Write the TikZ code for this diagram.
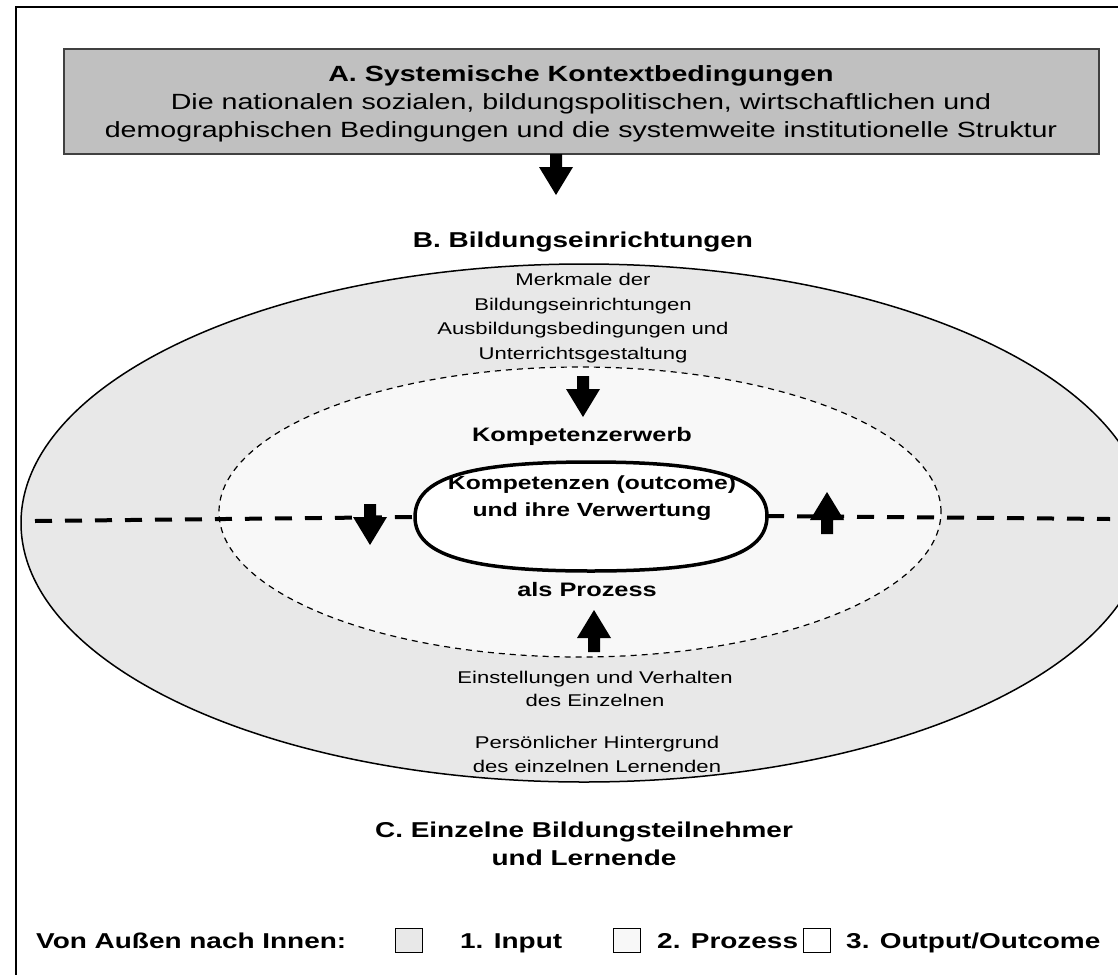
\documentclass[tikz,border=0pt]{standalone}
\usepackage{fontspec}
\setmainfont{Liberation Sans}[FakeStretch=1.3]
\usetikzlibrary{shapes.geometric}
\definecolor{boxgray}{HTML}{C0C0C0}
\definecolor{boxline}{HTML}{404040}
\definecolor{outerfill}{HTML}{E8E8E8}
\definecolor{innerfill}{HTML}{F8F8F8}
\tikzset{
  downarr/.pic={\fill (-6,-41) -- (6,-41) -- (6,-28) -- (17,-28) -- (0,0) -- (-17,-28) -- (-6,-28) -- cycle;},
  uparr/.pic={\fill (-6,42) -- (6,42) -- (6,28) -- (17,28) -- (0,0) -- (-17,28) -- (-6,28) -- cycle;},
  bigtxt/.style={font=\fontsize{22}{28}\selectfont, align=center, inner sep=0pt},
  boldtxt/.style={font=\bfseries\fontsize{21.5}{28}\selectfont, align=center, inner sep=0pt},
  midtxt/.style={font=\bfseries\fontsize{19.5}{28}\selectfont, align=center, inner sep=0pt},
  smalltxt/.style={font=\fontsize{17}{24.5}\selectfont, align=center, inner sep=0pt},
  legbox/.style={draw, line width=1pt, minimum width=27pt, minimum height=24pt, inner sep=0pt},
  thickdash/.style={line width=4pt, dash pattern=on 17pt off 13pt},
}
\begin{document}
\begin{tikzpicture}[x=1pt,y=-1pt]
\useasboundingbox (0,0) rectangle (1118,974);
\clip (0,0) rectangle (1118,974);
\fill[white] (0,0) rectangle (1118,974);
% frame
\draw[line width=2pt] (16,1000) -- (16,7) -- (1140,7);
% A box
\node[draw=boxline, fill=boxgray, line width=1.5pt, minimum width=1035pt, minimum height=105pt, inner sep=0pt] (boxA) at (581.5,101.5) {};
\node[bigtxt] (txtA) at (581,104) {\textbf{A. Systemische Kontextbedingungen}\\Die nationalen sozialen, bildungspolitischen, wirtschaftlichen und\\demographischen Bedingungen und die systemweite institutionelle Struktur};
\pic at (556,195) {downarr};
\node[boldtxt] (titleB) at (583,242) {B. Bildungseinrichtungen};
% ellipses
\path[draw, fill=outerfill, line width=1.5pt] (584,523) ellipse [x radius=563pt, y radius=259pt];
\path[draw, fill=innerfill, line width=1.2pt, dash pattern=on 6pt off 5pt] (580,512) ellipse [x radius=361pt, y radius=145pt];
\node[smalltxt] (merk) at (583,318) {Merkmale der\\Bildungseinrichtungen\\Ausbildungsbedingungen und\\Unterrichtsgestaltung};
\pic at (583,417) {downarr};
\node[midtxt] (kerw) at (582,436) {Kompetenzerwerb};
% central oval (outcome)
\coordinate (outcW) at (415,517);
\coordinate (outcE) at (767,516);
\draw[line width=3.5pt, fill=white] (outcW)
  .. controls (415,478) and (468,462) .. (591,462)
  .. controls (714,462) and (767,478) .. (outcE)
  .. controls (767,555) and (714,571) .. (591,571)
  .. controls (468,571) and (415,555) .. (outcW) -- cycle;
\node[midtxt, font=\bfseries\fontsize{19}{27.5}\selectfont] (outct) at (592,498) {Kompetenzen (outcome)\\und ihre Verwertung};
\coordinate (dl) at (35,521);
\coordinate (dr) at (1110,519);
\draw[thickdash] (dl) -- (outcW);
\draw[thickdash] (outcE) -- (dr);
\pic at (370,545) {downarr};
\pic at (827,492) {uparr};
\node[midtxt] (proz) at (587,590) {als Prozess};
\pic at (594,610) {uparr};
\node[smalltxt, font=\fontsize{17}{23}\selectfont] (einst) at (595,688.5) {Einstellungen und Verhalten\\des Einzelnen};
\node[smalltxt, font=\fontsize{17}{24}\selectfont] (pers) at (597,754) {Persönlicher Hintergrund\\des einzelnen Lernenden};
\node[boldtxt] (titleC) at (584,844) {C. Einzelne Bildungsteilnehmer\\und Lernende};
% legend
\node[boldtxt, anchor=base west] (leg) at (36,948) {Von Außen nach Innen:};
\node[legbox, fill=outerfill] (lb1) at (409,940) {};
\node[boldtxt, anchor=base west] (l1) at (460,948) {1. Input};
\node[legbox, fill=innerfill] (lb2) at (627,940) {};
\node[boldtxt, anchor=base west] (l2) at (657,948) {2. Prozess};
\node[legbox, fill=white] (lb3) at (817,940) {};
\node[boldtxt, anchor=base west] (l3) at (846,948) {3. Output/Outcome};
\end{tikzpicture}
\end{document}
